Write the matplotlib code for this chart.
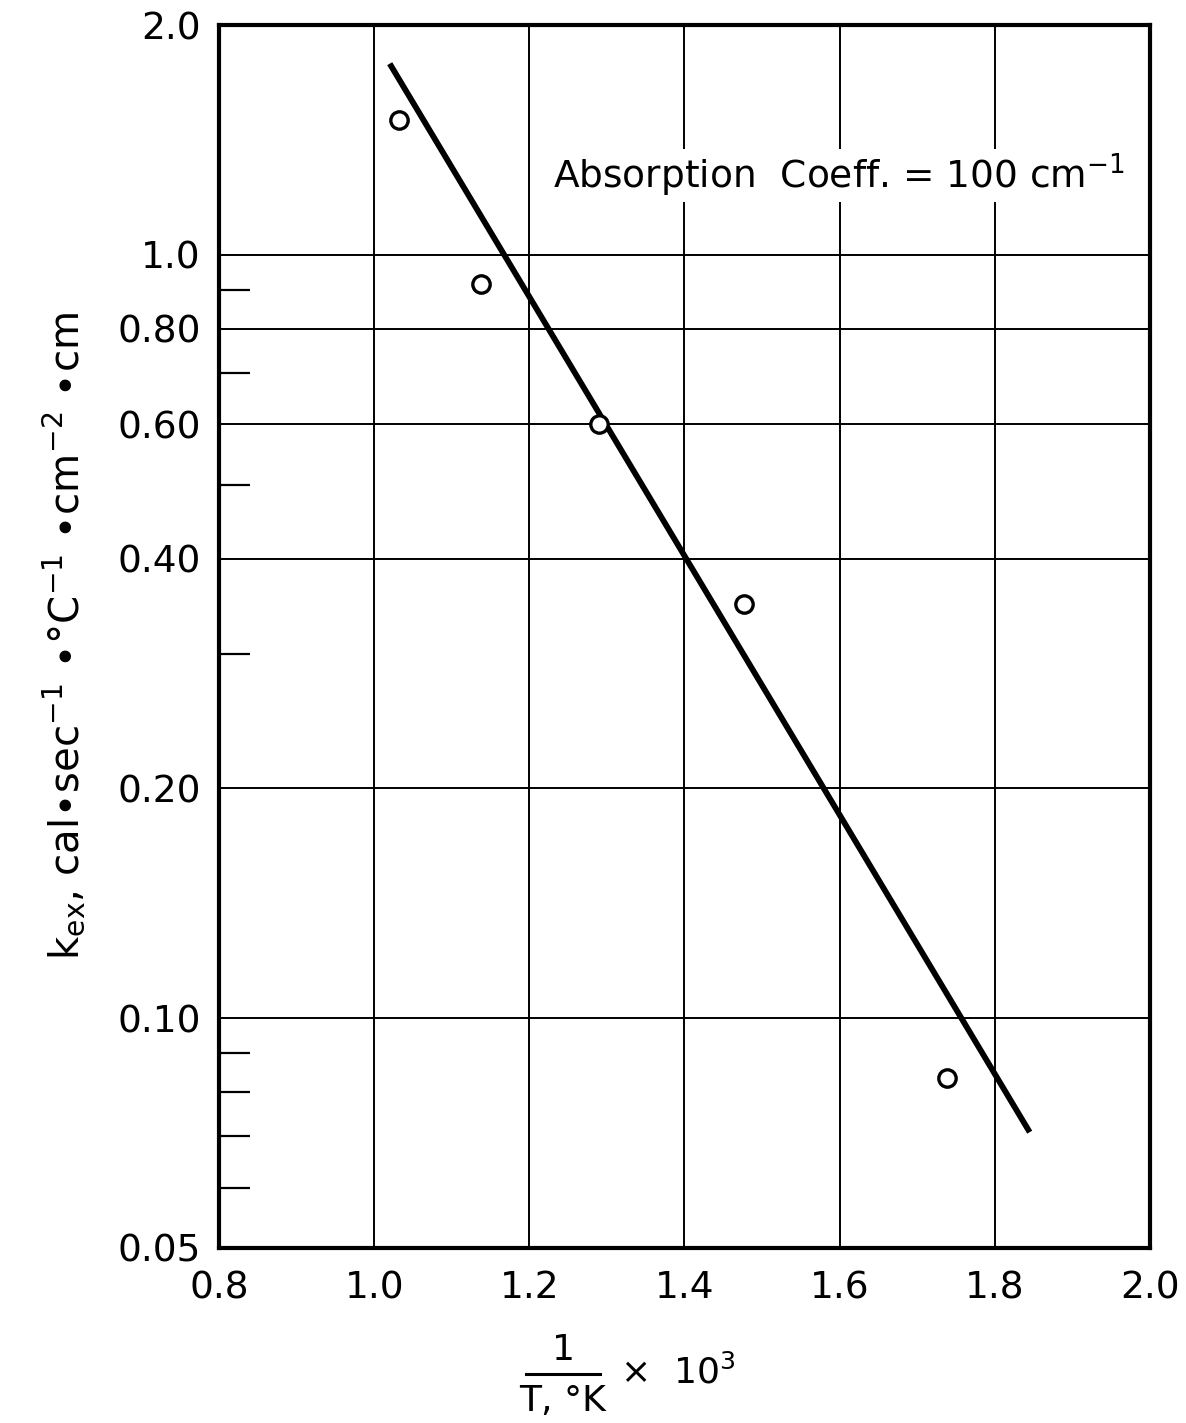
import matplotlib
matplotlib.use("Agg")
import matplotlib.pyplot as plt
from matplotlib.ticker import FixedLocator, NullFormatter

# data
inv_T = [1.032, 1.138, 1.290, 1.477, 1.739]
k_ex = [1.50, 0.917, 0.600, 0.349, 0.0836]
fit_x = [1.020, 1.845]
fit_y = [1.78, 0.0709]
x_ticks = [0.8, 1.0, 1.2, 1.4, 1.6, 1.8, 2.0]
x_ticklabels = ["0.8", "1.0", "1.2", "1.4", "1.6", "1.8", "2.0"]
y_ticks = [0.05, 0.10, 0.20, 0.40, 0.60, 0.80, 1.0, 2.0]
y_ticklabels = ["0.05", "0.10", "0.20", "0.40", "0.60", "0.80", "1.0", "2.0"]
y_minor = [0.06, 0.07, 0.08, 0.09, 0.3, 0.5, 0.7, 0.9]
x_grid = [1.0, 1.2, 1.4, 1.6, 1.8]
y_grid = [0.10, 0.20, 0.40, 0.60, 0.80, 1.0]

plt.rcParams['font.family'] = ['DejaVu Sans']

fig = plt.figure(figsize=(11.86, 14.23), dpi=100)
ax = fig.add_axes([0.1847, 0.1230, 0.9696 - 0.1847, 0.9824 - 0.1230])
ax.set_yscale('log')
ax.set_xlim(0.8, 2.0)
ax.set_ylim(0.05, 2.0)

for gx in x_grid:
    ax.axvline(gx, color='black', lw=1.4, zorder=1)
for gy in y_grid:
    ax.axhline(gy, color='black', lw=1.4, zorder=1)

ax.plot(fit_x, fit_y, color='black', lw=4.2, solid_capstyle='butt', zorder=3)
ax.plot(inv_T, k_ex, linestyle='none', marker='o', markersize=12.5,
        markerfacecolor='white', markeredgecolor='black', markeredgewidth=2.4, zorder=4)

ax.xaxis.set_major_locator(FixedLocator(x_ticks))
ax.set_xticklabels(x_ticklabels)
ax.yaxis.set_major_locator(FixedLocator(y_ticks))
ax.set_yticklabels(y_ticklabels)
ax.yaxis.set_minor_locator(FixedLocator(y_minor))
ax.yaxis.set_minor_formatter(NullFormatter())
ax.xaxis.set_minor_locator(FixedLocator([]))

ax.tick_params(axis='both', which='major', length=0, labelsize=27, pad=13)
ax.tick_params(axis='y', which='minor', direction='in', length=22, width=1.6)
ax.tick_params(axis='x', which='major', pad=16)

for sp in ax.spines.values():
    sp.set_linewidth(3)

ax.text(1.968, 1.27, r"Absorption  Coeff. = 100 cm$^{-1}$", ha='right', va='center',
        fontsize=27, zorder=5,
        bbox=dict(facecolor='white', edgecolor='none', pad=2))

ax.set_ylabel(r"k$_{\mathrm{ex}}$, cal$\bullet$sec$^{-1}$ $\bullet$°C$^{-1}$ $\bullet$cm$^{-2}$ $\bullet$cm",
              fontsize=29, labelpad=22)

# x label as fraction
fig.text(563 / 1186, 1 - 1350 / 1423, "1", ha='center', va='center', fontsize=26)
fig.add_artist(plt.Line2D([526 / 1186, 600 / 1186], [1 - 1374 / 1423, 1 - 1374 / 1423],
                          color='black', lw=2.2, transform=fig.transFigure))
fig.text(563 / 1186, 1 - 1401 / 1423, "T, °K", ha='center', va='center', fontsize=26)
fig.text(620 / 1186, 1 - 1372 / 1423, r"×  10$^{3}$", ha='left', va='center', fontsize=26)

fig.savefig("out.png", dpi=100)
